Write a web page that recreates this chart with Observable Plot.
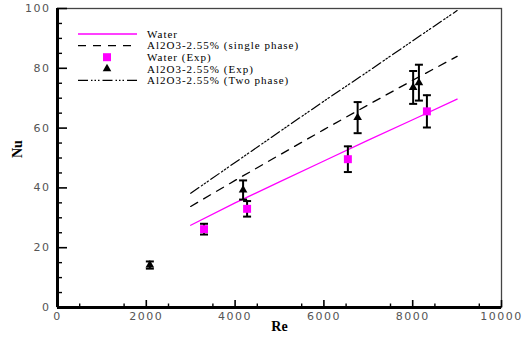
<!DOCTYPE html>
<html>
<head>
<meta charset="utf-8">
<script src="https://cdn.jsdelivr.net/npm/d3@7"></script>
<script src="https://cdn.jsdelivr.net/npm/@observablehq/plot@0.6"></script>
<style>
  body { margin: 0; background: #fff; }
  #chart { width: 522px; height: 344px; }
  #chart svg g[aria-label="x-axis tick label"] text,
  #chart svg g[aria-label="y-axis tick label"] text { letter-spacing: 1.5px; }
</style>
</head>
<body>
<div id="chart"></div>
<script>
// Correlation curves, Nu against Re
const reCurve = [3000, 4000, 5000, 6000, 7000, 8000, 9000];
const nuWater = [27.5, 35, 42, 49, 56, 62.8, 69.7];
const nuSingle = [33.8, 42.5, 51, 59.5, 67.8, 76, 84];
const nuTwo = [38.2, 48.5, 58.8, 69, 79, 89.2, 99.3];

// Measured points with their uncertainty
const reWaterExp = [3300, 4270, 6540, 8320];
const nuWaterExp = [26.2, 33.0, 49.6, 65.6];
const errWaterExp = [1.8, 2.6, 4.3, 5.4];

const reNanoExp = [2080, 4180, 6760, 8010, 8140];
const nuNanoExp = [14.2, 39.3, 63.5, 73.6, 75.2];
const errNanoExp = [1.2, 3.2, 5.2, 5.5, 6.0];

// Axis ticks
const xTicks = [0, 2000, 4000, 6000, 8000, 10000];
const xMinor = d3.range(500, 10000, 1000);
const yTicks = [0, 20, 40, 60, 80, 100];
const yMinor = d3.range(5, 100, 5).filter(v => v % 20 !== 0);

const legendItems = [
  {label: "Water", kind: "line", stroke: "#ff00ff", dash: null},
  {label: "Al2O3-2.55% (single phase)", kind: "line", stroke: "#000", dash: "8,7"},
  {label: "Water (Exp)", kind: "square", fill: "#ff00ff"},
  {label: "Al2O3-2.55% (Exp)", kind: "triangle", fill: "#000"},
  {label: "Al2O3-2.55% (Two phase)", kind: "line", stroke: "#000", dash: "10,3,1.5,2,1.5,2,1.5,3"}
];

const W = 522, H = 344, mL = 57, mR = 21, mT = 8, mB = 37;
const plotW = W - mL - mR, plotH = H - mT - mB;

const curveRows = (ys) => reCurve.map((re, i) => ({re, nu: ys[i]}));
const expRows = (res, nus, errs) => res.map((re, i) => ({re, nu: nus[i], lo: nus[i] - errs[i], hi: nus[i] + errs[i]}));
const waterExp = expRows(reWaterExp, nuWaterExp, errWaterExp);
const nanoExp = expRows(reNanoExp, nuNanoExp, errNanoExp);
const bars = nanoExp.concat(waterExp);

// horizontal cap for error bars
const cap = {draw(ctx) { ctx.moveTo(-4, 0); ctx.lineTo(4, 0); }};

const tickFont = {fontFamily: "DejaVu Sans", fontSize: 11, fill: "#555", tickFormat: d3.format("d")};

const chart = Plot.plot({
  width: W, height: H,
  marginLeft: mL, marginRight: mR, marginTop: mT, marginBottom: mB,
  x: {domain: [0, 10000]},
  y: {domain: [0, 100]},
  style: {background: "#fff", overflow: "visible"},
  marks: [
    Plot.frame({stroke: "#444", strokeWidth: 1.3}),
    // inward ticks
    Plot.ruleX(xMinor, {insetTop: plotH - 3.5, stroke: "#000", strokeWidth: 1.4}),
    Plot.ruleX(xTicks, {insetTop: plotH - 7, stroke: "#000", strokeWidth: 1.6}),
    Plot.ruleY(yMinor, {insetRight: plotW - 5, stroke: "#000", strokeWidth: 1.4}),
    Plot.ruleY(yTicks, {insetRight: plotW - 10, stroke: "#000", strokeWidth: 1.6}),
    Plot.ruleX([0], {stroke: "#000", strokeWidth: 3}),
    Plot.ruleY([0], {stroke: "#000", strokeWidth: 3}),
    Plot.axisX(xTicks, {tickSize: 0, tickPadding: 5, label: null, ...tickFont}),
    Plot.axisY(yTicks, {tickSize: 0, tickPadding: 7, label: null, ...tickFont}),
    Plot.text(["Re"], {frameAnchor: "bottom", dy: 23, fontFamily: "Liberation Serif", fontWeight: "bold", fontSize: 14, fill: "#000"}),
    Plot.text(["Nu"], {frameAnchor: "left", dx: -40, rotate: -90, fontFamily: "Liberation Serif", fontWeight: "bold", fontSize: 14, fill: "#000"}),
    // correlation curves
    Plot.line(curveRows(nuTwo), {x: "re", y: "nu", stroke: "#000", strokeWidth: 1.2, strokeDasharray: "10,3,1.5,2,1.5,2,1.5,3"}),
    Plot.line(curveRows(nuSingle), {x: "re", y: "nu", stroke: "#000", strokeWidth: 1.3, strokeDasharray: "8,7"}),
    Plot.line(curveRows(nuWater), {x: "re", y: "nu", stroke: "#ff00ff", strokeWidth: 1.3}),
    // error bars
    Plot.ruleX(bars, {x: "re", y1: "lo", y2: "hi", stroke: "#000", strokeWidth: 2}),
    Plot.dot(bars, {x: "re", y: "lo", symbol: cap, fill: "none", stroke: "#000", strokeWidth: 2}),
    Plot.dot(bars, {x: "re", y: "hi", symbol: cap, fill: "none", stroke: "#000", strokeWidth: 2}),
    // measured values
    Plot.dot(waterExp, {x: "re", y: "nu", symbol: "square", r: 4.5, fill: "#ff00ff", stroke: "none"}),
    Plot.dot(nanoExp, {x: "re", y: "nu", symbol: "triangle", r: 3.2, fill: "#000", stroke: "none"})
  ]
});

// legend in the upper-left of the plotting area
const svg = d3.select(chart);
const lg = svg.append("g").attr("aria-label", "legend").attr("text-anchor", "start");
const rowY = i => 34 + i * 11.6;
legendItems.forEach((item, i) => {
  const y = rowY(i);
  if (item.kind === "line") {
    lg.append("line").attr("x1", 78).attr("x2", 137).attr("y1", y).attr("y2", y)
      .attr("stroke", item.stroke).attr("stroke-width", 1.3)
      .attr("stroke-dasharray", item.dash);
  } else if (item.kind === "square") {
    lg.append("rect").attr("x", 103).attr("y", y - 4).attr("width", 8).attr("height", 8).attr("fill", item.fill);
  } else {
    lg.append("path").attr("d", d3.symbol(d3.symbolTriangle, 32)()).attr("transform", `translate(107,${y})`).attr("fill", item.fill);
  }
  lg.append("text").attr("x", 147).attr("y", y).attr("dy", "0.35em")
    .attr("text-anchor", "start")
    .attr("font-family", "Liberation Serif").attr("font-size", 11).attr("letter-spacing", "1px")
    .attr("fill", "#000").text(item.label);
});

document.getElementById("chart").append(chart);
</script>
</body>
</html>
